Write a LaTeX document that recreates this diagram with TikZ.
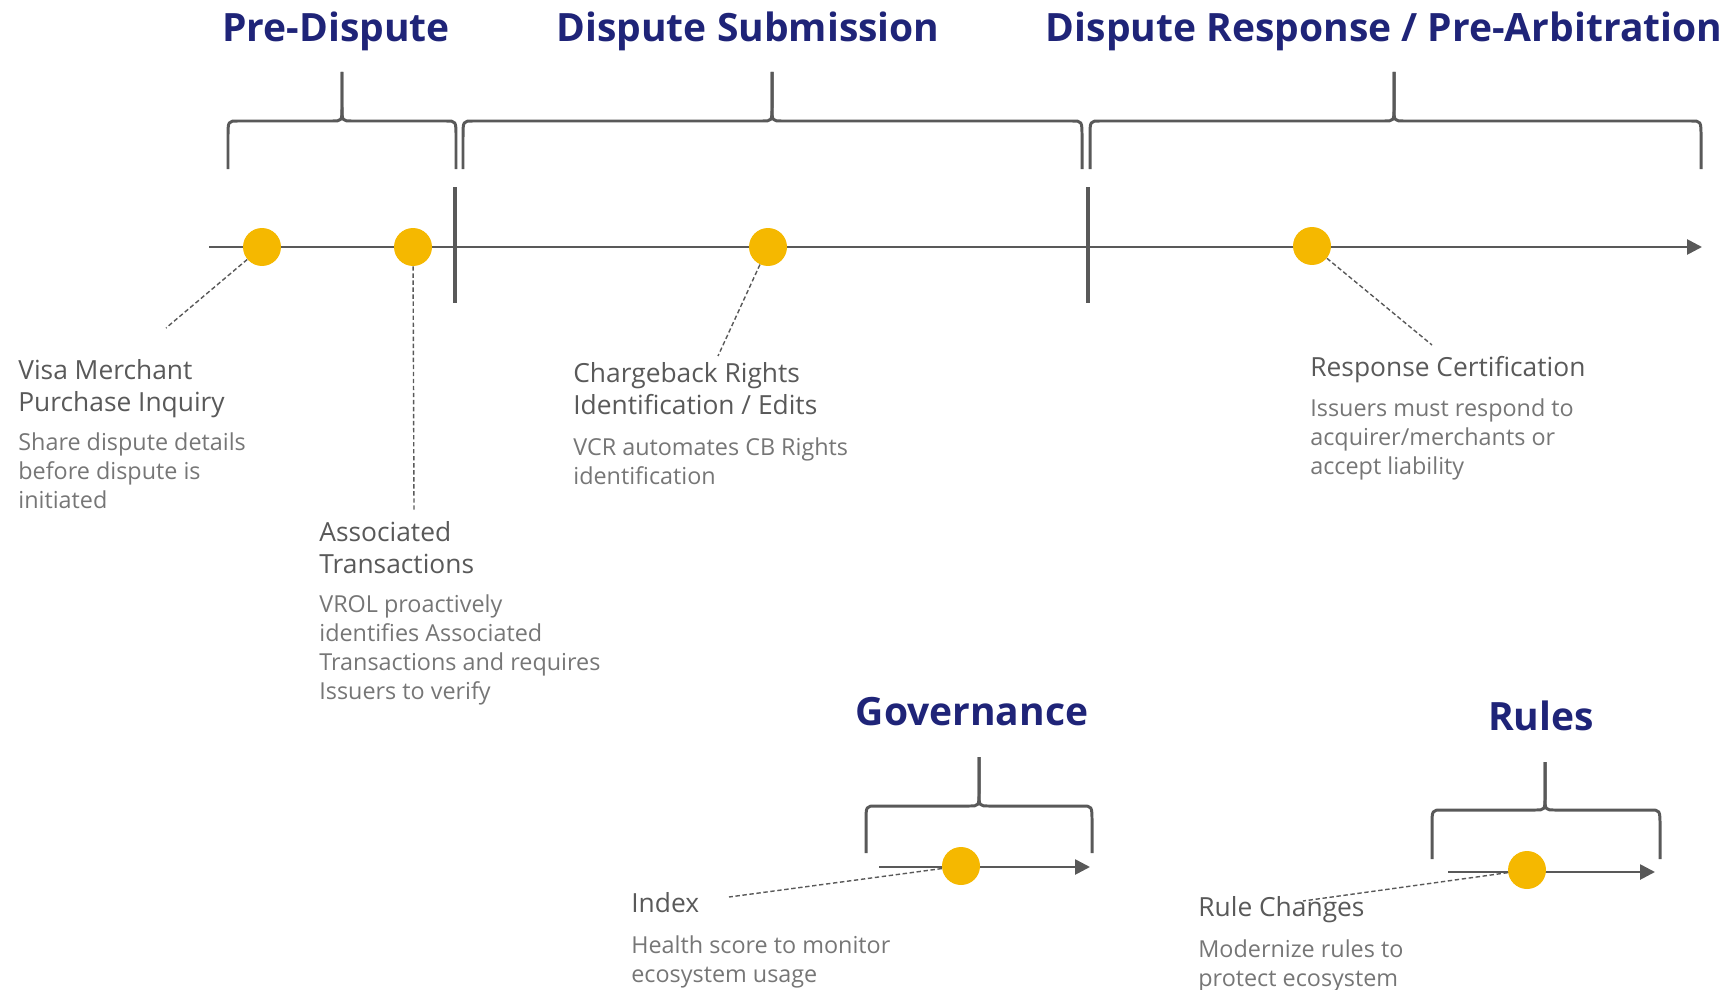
\documentclass[tikz,border=0pt]{standalone}
\usepackage{fontspec}
\setmainfont{Open Sans}
\usetikzlibrary{arrows.meta}
\definecolor{titleblue}{RGB}{31,36,120}
\definecolor{linegray}{RGB}{89,89,89}
\definecolor{textgray}{RGB}{89,89,89}
\definecolor{descgray}{RGB}{118,118,118}
\definecolor{dotyellow}{RGB}{245,184,0}
\tikzset{
	milestone/.style={circle, fill=dotyellow, inner sep=0pt, minimum size=0.76cm},
	phaseaxis/.style={line width=1.5pt, draw=linegray, -{Triangle[length=8.5pt,width=8.5pt]}},
	phasebracket/.style={line width=1.7pt, draw=linegray, line join=round},
	divider/.style={line width=2.3pt, draw=linegray},
	leader/.style={draw=linegray, line width=0.8pt, dash pattern=on 2.5pt off 1.5pt},
	phasetitle/.style={anchor=base, text=titleblue, inner sep=0pt, font=\fontsize{22.2}{27}\selectfont\bfseries},
	heading/.style={anchor=north west, align=left, text=textgray, inner sep=0pt, font=\fontsize{15}{18.2}\selectfont},
	desc/.style={anchor=north west, align=left, text=descgray, inner sep=0pt, font=\fontsize{13.3}{16.5}\selectfont},
}
% bracket: (left:peak:right)(bottom:bar:top)
\def\phasebrace(#1:#2:#3)(#4:#5:#6){%
	\draw[phasebracket] (#1,#4) -- (#1,#5+16) .. controls (#1,#5) .. (#1+10,#5) -- (#2-10,#5) .. controls (#2,#5) .. (#2,#5-14) -- (#2,#6);
	\draw[phasebracket] (#3,#4) -- (#3,#5+16) .. controls (#3,#5) .. (#3-10,#5) -- (#2+10,#5) .. controls (#2,#5) .. (#2,#5-14) -- (#2,#6);}

\begin{document}
\begin{tikzpicture}[x=0.02cm, y=-0.02cm]
			\useasboundingbox (0,0) rectangle (1727,990);
			%%%%% TITLES %%%%%
			
			\node[phasetitle] (tPre) at (336,42) {Pre-Dispute};
			\node[phasetitle] (tSubmit) at (748,42) {Dispute Submission};
			\node[phasetitle] (tResponse) at (1384,42) {Dispute Response / Pre-Arbitration};
			\node[phasetitle] (tGov) at (972,725) {Governance};
			\node[phasetitle] (tRules) at (1541,730) {Rules};
			
			%%%%% BRACKETS %%%%%
			
			\phasebrace(228:342:456)(169:121:72)
			\phasebrace(463:772:1082)(169:121:72)
			\phasebrace(1090:1394:1701)(169:121:72)
			\phasebrace(866:979:1092)(853:806:757)
			\phasebrace(1432:1545:1660)(859:810:762)
			
			%%%%% TIMELINES %%%%%
			
			\coordinate (mainStart) at (209,247);
			\coordinate (mainEnd) at (1702,247);
			\draw[phaseaxis] (mainStart) -- (mainEnd);
			\draw[divider] (455,187) -- (455,303);
			\draw[divider] (1088,187) -- (1088,303);
			
			\coordinate (govStart) at (879,867);
			\coordinate (govEnd) at (1090,867);
			\draw[phaseaxis] (govStart) -- (govEnd);
			\coordinate (rulesStart) at (1448,872);
			\coordinate (rulesEnd) at (1655,872);
			\draw[phaseaxis] (rulesStart) -- (rulesEnd);
			
			%%%%% MILESTONES %%%%%
			
			\node[milestone] (dotInquiry) at (262,247) {};
			\node[milestone] (dotAssoc) at (413,247) {};
			\node[milestone] (dotRights) at (768,247) {};
			\node[milestone] (dotCert) at (1312,246) {};
			\node[milestone] (dotIndex) at (961,866) {};
			\node[milestone] (dotRules) at (1527,870) {};
			
			%%%%% LABELS %%%%%
			
			\node[heading] (hInquiry) at (18,359) {Visa Merchant\\Purchase Inquiry};
			\node[desc] (dInquiry) at (18,432) {Share dispute details\\before dispute is\\initiated};
			
			\node[heading] (hAssoc) at (319,521) {Associated\\Transactions};
			\node[desc] (dAssoc) at (319,594) {VROL proactively\\identifies Associated\\Transactions and requires\\Issuers to verify};
			
			\node[heading] (hRights) at (573,362) {Chargeback Rights\\Identification / Edits};
			\node[desc] (dRights) at (573,437) {VCR automates CB Rights\\identification};
			
			\node[heading] (hCert) at (1310,356) {Response Certification};
			\node[desc] (dCert) at (1310,398) {Issuers must respond to\\acquirer/merchants or\\accept liability};
			
			\node[heading] (hIndex) at (631,892) {Index};
			\node[desc] (dIndex) at (631,935) {Health score to monitor\\ecosystem usage};
			
			\node[heading] (hRules) at (1198,896) {Rule Changes};
			\node[desc] (dRules) at (1198,939) {Modernize rules to\\protect ecosystem};
			
			%%%%% LEADERS %%%%%
			
			\coordinate (endInquiry) at (166,328);
			\coordinate (endAssoc) at (414,510);
			\coordinate (endRights) at (718,356);
			\coordinate (endCert) at (1432,345);
			\coordinate (endIndex) at (729,897);
			\coordinate (endRules) at (1303,901);
			\draw[leader] (dotInquiry) -- (endInquiry);
			\draw[leader] (dotAssoc) -- (endAssoc);
			\draw[leader] (dotRights) -- (endRights);
			\draw[leader] (dotCert) -- (endCert);
			\draw[leader] (dotIndex) -- (endIndex);
			\draw[leader] (dotRules) -- (endRules);
			
			%%%%% END %%%%%
\end{tikzpicture}
\end{document}
